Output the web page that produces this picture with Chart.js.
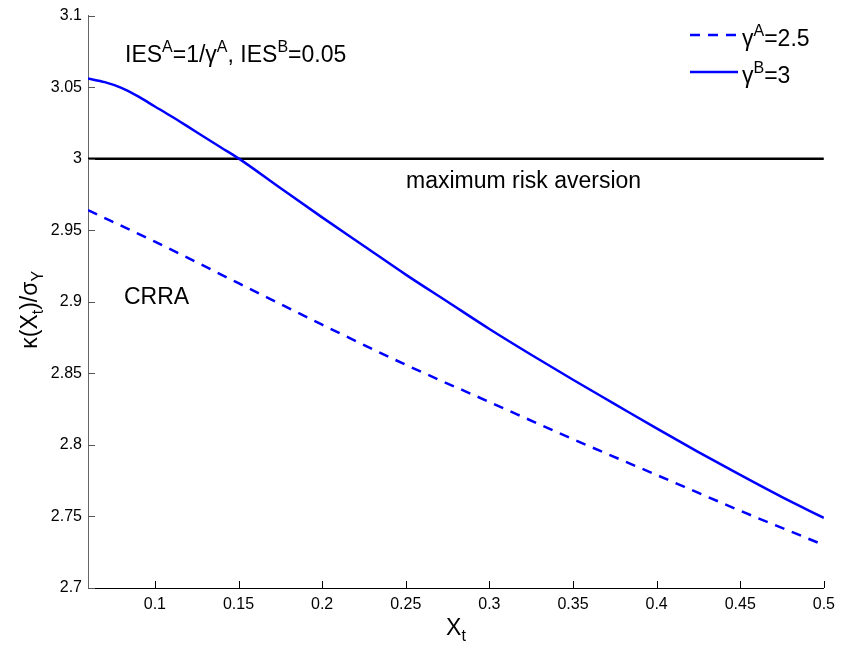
<!DOCTYPE html>
<html>
<head>
<meta charset="utf-8">
<script src="https://cdn.jsdelivr.net/npm/chart.js@4.4.1/dist/chart.umd.min.js"></script>
<style>
  html, body { margin: 0; padding: 0; background: #fff; }
  #wrap { width: 842px; height: 649px; }
</style>
</head>
<body>
<div id="wrap"><canvas id="c" width="842" height="649"></canvas></div>
<script>
// ---- data ----
const xB = [0.06, 0.07, 0.08, 0.09, 0.10, 0.11, 0.12, 0.13, 0.14, 0.15, 0.175, 0.2, 0.225, 0.25, 0.275, 0.3, 0.325, 0.35, 0.375, 0.4, 0.425, 0.45, 0.475, 0.5];
const yB = [3.056, 3.0535, 3.0495, 3.0435, 3.0365, 3.0295, 3.0222, 3.0148, 3.0075, 3.0002, 2.9795, 2.959, 2.939, 2.919, 2.900, 2.881, 2.863, 2.8455, 2.8285, 2.8115, 2.795, 2.779, 2.7635, 2.749];
const xA = [0.06, 0.1, 0.15, 0.2, 0.25, 0.3, 0.35, 0.4, 0.45, 0.5];
const yA = [2.964, 2.942, 2.913, 2.884, 2.856, 2.830, 2.804, 2.779, 2.754, 2.730];
const xMax = [0.06, 0.5];
const yMax = [3.0, 3.0];
const xTicks = [0.1, 0.15, 0.2, 0.25, 0.3, 0.35, 0.4, 0.45, 0.5];
const yTicks = [2.7, 2.75, 2.8, 2.85, 2.9, 2.95, 3.0, 3.05, 3.1];
const xTickLabels = ['0.1', '0.15', '0.2', '0.25', '0.3', '0.35', '0.4', '0.45', '0.5'];
const yTickLabels = ['2.7', '2.75', '2.8', '2.85', '2.9', '2.95', '3', '3.05', '3.1'];

const FONT = '"Liberation Sans", Arial, Helvetica, sans-serif';
const BLUE = '#0000ff';
const TXT = 23, SMALL = 16, RISE = 10, DROP = 6;

function pts(xs, ys) { return xs.map((x, i) => ({ x: x, y: ys[i] })); }

function richWidth(ctx, segs, size, small) {
  let w = 0;
  segs.forEach(sg => {
    ctx.font = (sg.s ? small : size) + 'px ' + FONT;
    w += ctx.measureText(sg.t).width;
  });
  return w;
}
function drawRich(ctx, segs, x, y, size, small, rise, drop) {
  let cx = x;
  ctx.textBaseline = 'alphabetic';
  ctx.textAlign = 'left';
  segs.forEach(sg => {
    ctx.font = (sg.s ? small : size) + 'px ' + FONT;
    let dy = 0;
    if (sg.s === 'sup') dy = -rise;
    if (sg.s === 'sub') dy = drop;
    ctx.fillText(sg.t, cx, y + dy);
    cx += ctx.measureText(sg.t).width;
  });
  return cx;
}

const decor = {
  id: 'decor',
  afterDraw(chart) {
    const ctx = chart.ctx;
    const xs = chart.scales.x, ys = chart.scales.y;
    const ca = chart.chartArea;
    ctx.save();
    // inward ticks
    ctx.strokeStyle = '#000';
    ctx.lineWidth = 1;
    ctx.beginPath();
    xTicks.forEach(v => {
      const px = Math.round(xs.getPixelForValue(v)) + 0.5;
      ctx.moveTo(px, ca.bottom);
      ctx.lineTo(px, ca.bottom - 7);
    });
    ctx.stroke();
    ctx.strokeStyle = '#555';
    ctx.beginPath();
    yTicks.forEach(v => {
      const py = Math.round(ys.getPixelForValue(v)) + 0.5;
      ctx.moveTo(ca.left, py);
      ctx.lineTo(ca.left + 7, py);
    });
    ctx.stroke();

    ctx.fillStyle = '#000';
    drawRich(ctx, [{t:'IES'},{t:'A',s:'sup'},{t:'=1/γ'},{t:'A',s:'sup'},{t:', IES'},{t:'B',s:'sup'},{t:'=0.05'}], 125, 62, TXT, SMALL, RISE, DROP);
    drawRich(ctx, [{t:'maximum risk aversion'}], 406, 188, TXT, SMALL, RISE, DROP);
    drawRich(ctx, [{t:'CRRA'}], 124, 304, TXT, SMALL, RISE, DROP);

    // legend
    const ds = chart.data.datasets;
    ctx.lineWidth = 2.5;
    ctx.strokeStyle = ds[1].borderColor;
    ctx.setLineDash(ds[1].borderDash);
    ctx.beginPath(); ctx.moveTo(690, 35); ctx.lineTo(738, 35); ctx.stroke();
    ctx.setLineDash([]);
    ctx.strokeStyle = ds[0].borderColor;
    ctx.beginPath(); ctx.moveTo(690, 72); ctx.lineTo(738, 72); ctx.stroke();
    drawRich(ctx, [{t:'γ'},{t:'A',s:'sup'},{t:'=2.5'}], 742, 46, TXT, SMALL, RISE, DROP);
    drawRich(ctx, [{t:'γ'},{t:'B',s:'sup'},{t:'=3'}], 742, 83, TXT, SMALL, RISE, DROP);

    // x axis title
    const xt = [{t:'X'},{t:'t',s:'sub'}];
    const xw = richWidth(ctx, xt, TXT, SMALL);
    drawRich(ctx, xt, (ca.left + ca.right) / 2 - xw / 2, 635, TXT, SMALL, RISE, DROP);

    // y axis title
    const yt = [{t:'κ(X'},{t:'t',s:'sub'},{t:')/σ'},{t:'Y',s:'sub'}];
    const yw = richWidth(ctx, yt, TXT, SMALL);
    ctx.save();
    ctx.translate(37, (ca.top + ca.bottom) / 2 + 8);
    ctx.rotate(-Math.PI / 2);
    drawRich(ctx, yt, -yw / 2, 0, TXT, SMALL, RISE, DROP);
    ctx.restore();

    ctx.restore();
  }
};

new Chart(document.getElementById('c'), {
  type: 'line',
  data: {
    datasets: [
      { label: 'γB=3', data: pts(xB, yB), borderColor: BLUE, borderWidth: 2.5, pointRadius: 0, cubicInterpolationMode: 'monotone', fill: false, order: 0 },
      { label: 'γA=2.5', data: pts(xA, yA), borderColor: BLUE, borderWidth: 2.5, borderDash: [10, 8], pointRadius: 0, cubicInterpolationMode: 'monotone', fill: false, order: 1 },
      { label: 'max', data: pts(xMax, yMax), borderColor: '#000', borderWidth: 2.5, pointRadius: 0, fill: false, order: 2 }
    ]
  },
  options: {
    responsive: false,
    animation: false,
    events: [],
    layout: { padding: { top: 6, right: 17, left: 0, bottom: 0 } },
    plugins: { legend: { display: false }, tooltip: { enabled: false } },
    scales: {
      x: {
        type: 'linear', min: 0.06, max: 0.5,
        afterFit(s) { s.height = 61; },
        afterBuildTicks(s) { s.ticks = xTicks.map(v => ({ value: v })); },
        grid: { display: false, drawTicks: false },
        border: { display: true, color: '#000', width: 1 },
        ticks: { color: '#000', font: { family: FONT, size: 16 }, padding: 7, maxRotation: 0, autoSkip: false,
          callback(v) { const i = xTicks.findIndex(t => Math.abs(t - v) < 1e-9); return i >= 0 ? xTickLabels[i] : ''; } }
      },
      y: {
        type: 'linear', min: 2.7, max: 3.1,
        afterFit(s) { s.width = 88; },
        afterBuildTicks(s) { s.ticks = yTicks.map(v => ({ value: v })); },
        grid: { display: false, drawTicks: false },
        border: { display: true, color: '#666', width: 1 },
        ticks: { color: '#000', font: { family: FONT, size: 16 }, padding: 6, autoSkip: false,
          callback(v) { const i = yTicks.findIndex(t => Math.abs(t - v) < 1e-9); return i >= 0 ? yTickLabels[i] : ''; } }
      }
    }
  },
  plugins: [decor]
});
</script>
</body>
</html>
